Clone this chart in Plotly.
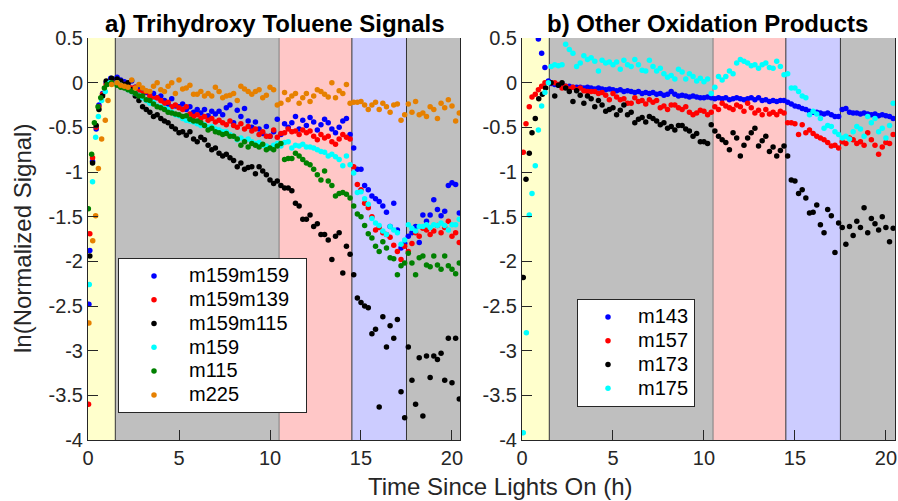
import plotly.graph_objects as go

# ---------------- data ----------------
T_MAIN = [1.6, 1.8,
          2.0, 2.2, 2.4, 2.6, 2.8,
          3.0, 3.2, 3.4, 3.6, 3.8,
          4.0, 4.2, 4.4, 4.6, 4.8,
          5.0, 5.2, 5.4, 5.6, 5.8,
          6.0, 6.2, 6.4, 6.6, 6.8,
          7.0, 7.2, 7.4, 7.6, 7.8,
          8.0, 8.2, 8.4, 8.6, 8.8,
          9.0, 9.2, 9.4, 9.6, 9.8,
          10.0, 10.2, 10.4, 10.6, 10.8,
          11.0, 11.2, 11.4, 11.6, 11.8,
          12.0, 12.2, 12.4, 12.6, 12.8,
          13.0, 13.2, 13.4, 13.6, 13.8,
          14.0, 14.2, 14.4, 14.6, 14.8,
          15.0, 15.2, 15.4, 15.6, 15.8,
          16.0, 16.2, 16.4, 16.6, 16.8,
          17.0, 17.2, 17.4, 17.6, 17.8,
          18.0, 18.2, 18.4, 18.6, 18.8,
          19.0, 19.2, 19.4, 19.6, 19.8,
          20.0, 20.2, 20.4]

# panel a) initial rise (lights on) samples
A_BLUE_T0 = [0.05, 0.1, 0.25, 0.45, 0.6, 0.8, 1.0, 1.25, 1.45]
A_BLUE_Y0 = [-2.48, -1.88, -0.88, -0.52, -0.25, -0.12, 0.0, 0.05, 0.03]
A_RED_T0 = [0.03, 0.1, 0.25, 0.45, 0.6, 0.8, 1.0, 1.3]
A_RED_Y0 = [-3.6, -1.69, -0.84, -0.5, -0.27, -0.13, -0.02, 0.0]
A_BLACK_T0 = [0.1, 0.25, 0.45, 0.6, 0.8, 1.0, 1.3]
A_BLACK_Y0 = [-1.94, -0.9, -0.48, -0.3, -0.15, 0.02, 0.05]
A_CYAN_T0 = [0.07, 0.25, 0.42, 0.57, 0.75, 0.95, 1.2]
A_CYAN_Y0 = [-2.26, -1.11, -0.61, -0.38, -0.2, -0.1, 0.0]
A_GREEN_T0 = [0.02, 0.2, 0.35, 0.55, 0.7, 0.9, 1.05, 1.3]
A_GREEN_Y0 = [-1.41, -0.8, -0.45, -0.27, -0.17, -0.06, -0.02, 0.0]
A_ORANGE_T0 = [0.05, 0.26, 0.42, 0.57, 0.75, 0.95, 1.1, 1.3]
A_ORANGE_Y0 = [-2.69, -1.77, -1.49, -0.96, -0.63, -0.42, -0.2, -0.02]

A_BLUE = [0.06, 0.03,
          0.01, -0.02, 0.02, -0.05, -0.08,
          -0.07, -0.11, -0.13, -0.12, -0.17,
          -0.15, -0.20, -0.24, -0.18, -0.26,
          -0.27, -0.24, -0.30, -0.27, -0.33,
          -0.30, -0.34, -0.30, -0.37, -0.32,
          -0.35, -0.32, -0.36, -0.28, -0.25,
          -0.45, -0.31, -0.38, -0.29, -0.43,
          -0.50, -0.44, -0.52, -0.57, -0.49,
          -0.60, -0.55, -0.41, -0.58, -0.46,
          -0.50, -0.45, -0.38, -0.52, -0.42,
          -0.48, -0.39, -0.44, -0.53, -0.47,
          -0.41, -0.45, -0.52, -0.56, -0.50,
          -0.43, -0.40, -0.58, -0.73, -0.97,
          -0.97, -1.15, -1.20, -1.27, -1.30,
          -1.33, -1.38, -1.45, -1.61, -1.35,
          -1.65, -1.85, -1.80, -1.72, -1.68,
          -1.61, -1.79, -1.48, -1.55, -1.48,
          -1.31, -1.42, -1.49, -1.44, -1.15,
          -1.12, -1.14, -1.46]

A_RED = [0.02, 0.00,
         -0.02, -0.04, -0.06, -0.05, -0.10,
         -0.12, -0.10, -0.15, -0.18, -0.17,
         -0.20, -0.23, -0.22, -0.27, -0.25,
         -0.28, -0.30, -0.27, -0.35, -0.38,
         -0.36, -0.40, -0.38, -0.42, -0.40,
         -0.44, -0.42, -0.45, -0.47, -0.43,
         -0.48, -0.50, -0.46, -0.52, -0.49,
         -0.54, -0.52, -0.58, -0.55, -0.60,
         -0.60, -0.53, -0.61, -0.57, -0.56,
         -0.52, -0.55, -0.54, -0.58, -0.53,
         -0.56, -0.54, -0.60, -0.64, -0.58,
         -0.62, -0.60, -0.66, -0.69, -0.63,
         -0.58, -0.61, -0.63, -0.94, -1.14,
         -1.20, -1.35, -1.40, -1.50, -1.65,
         -1.62, -1.68, -1.70, -1.73, -1.82,
         -1.89, -1.98, -1.83, -1.89, -1.80,
         -1.68, -1.72, -1.63, -1.65, -1.70,
         -1.66, -1.60, -1.68, -1.62, -1.55,
         -1.72, -1.68, -1.79]

A_BLACK = [0.04, 0.02,
           -0.02, 0.00, -0.08, -0.15, -0.20,
           -0.27, -0.30, -0.33, -0.38, -0.36,
           -0.40, -0.43, -0.45, -0.49, -0.52,
           -0.56, -0.55, -0.59, -0.55, -0.63,
           -0.66, -0.61, -0.64, -0.70, -0.75,
           -0.73, -0.79, -0.82, -0.80, -0.84,
           -0.87, -0.94, -0.90, -0.97, -0.95,
           -0.94, -1.02, -0.94, -0.99, -1.03,
           -1.09, -1.13, -1.10, -1.15, -1.18,
           -1.18, -1.21, -1.35, -1.38, -1.53,
           -1.53, -1.48, -1.61, -1.58, -1.70,
           -1.70, -1.76, -1.98, -1.72, -1.68,
           -2.13, -1.83, -1.92, -2.15, -2.41,
           -2.46, -2.50, -2.52, -2.81, -2.76,
           -3.63, -2.62, -2.96, -2.72, -2.86,
           -2.65, -3.46, -3.75, -2.96, -3.33,
           -3.60, -3.08, -3.73, -3.06, -3.30,
           -3.06, -3.10, -3.03, -3.33, -2.86,
           -3.36, -2.86, -3.54]

A_CYAN = [0.00, -0.03,
          -0.05, -0.08, -0.10, -0.12, -0.14,
          -0.17, -0.20, -0.23, -0.22, -0.26,
          -0.27, -0.29, -0.30, -0.33, -0.36,
          -0.37, -0.40, -0.42, -0.43, -0.44,
          -0.46, -0.48, -0.47, -0.50, -0.49,
          -0.52, -0.53, -0.55, -0.55, -0.58,
          -0.60, -0.64, -0.62, -0.65, -0.63,
          -0.66, -0.68, -0.67, -0.70, -0.71,
          -0.73, -0.70, -0.68, -0.71, -0.67,
          -0.66, -0.73, -0.70, -0.71, -0.69,
          -0.72, -0.72, -0.73, -0.75, -0.77,
          -0.78, -0.82, -0.80, -0.83, -0.86,
          -0.93, -0.82, -0.92, -1.01, -1.23,
          -1.22, -1.30, -1.36, -1.52, -1.57,
          -1.60, -1.66, -1.70, -1.61, -1.65,
          -1.68, -1.81, -1.76, -1.59, -1.63,
          -1.66, -1.61, -1.61, -1.59, -1.62,
          -1.59, -1.60, -1.57, -1.60, -1.65,
          -1.59, -1.59, -1.53]

A_GREEN = [-0.03, -0.05,
           -0.06, -0.08, -0.10, -0.12, -0.15,
           -0.15, -0.19, -0.20, -0.24, -0.27,
           -0.28, -0.30, -0.33, -0.34, -0.35,
           -0.36, -0.38, -0.37, -0.41, -0.43,
           -0.43, -0.45, -0.48, -0.53, -0.51,
           -0.55, -0.56, -0.58, -0.57, -0.60,
           -0.60, -0.63, -0.70, -0.66, -0.72,
           -0.68, -0.70, -0.72, -0.69, -0.75,
           -0.73, -0.75, -0.71, -0.68, -0.86,
           -0.85, -0.85, -0.79, -0.82, -0.86,
           -0.90, -0.92, -0.97, -1.03, -1.09,
           -0.99, -1.10, -1.15, -1.27, -1.24,
           -1.23, -1.25, -1.29, -1.38, -1.47,
           -1.50, -1.60, -1.69, -1.74, -1.83,
           -1.89, -1.78, -1.85, -1.96, -1.97,
           -2.15, -2.05, -2.02, -1.91, -2.02,
           -2.15, -1.96, -1.94, -2.04, -2.06,
           -1.94, -2.04, -2.09, -1.94, -2.05,
           -2.09, -2.14, -2.02]

A_ORANGE = [0.00, -0.03,
            -0.04, -0.05, 0.03, -0.06, -0.02,
            -0.06, -0.09, -0.10, -0.04, 0.00,
            -0.08, -0.10, -0.04, 0.00, -0.12,
            0.03, -0.07, -0.06, -0.03, -0.13,
            -0.13, -0.10, -0.15, -0.12, -0.15,
            -0.05, -0.10, -0.17, -0.15, -0.14,
            -0.12, -0.20, -0.04, -0.07, -0.10,
            -0.13, -0.10, -0.08, -0.17, -0.14,
            -0.05, -0.08, -0.25, -0.23, -0.11,
            -0.19, -0.15, -0.12, -0.23, -0.17,
            -0.12, -0.21, -0.15, -0.08, -0.10,
            -0.13, -0.16, 0.00, -0.17, -0.09,
            -0.12, -0.02, -0.23, -0.22, -0.22,
            -0.21, -0.25, -0.30, -0.25, -0.22,
            -0.30, -0.23, -0.27, -0.33, -0.25,
            -0.24, -0.42, -0.36, -0.24, -0.33,
            -0.21, -0.36, -0.34, -0.38, -0.27,
            -0.30, -0.40, -0.23, -0.28, -0.19,
            -0.26, -0.43, -0.34]

# panel b) initial samples
B_BLUE_T0 = [0.9, 1.08, 1.26, 1.45]
B_BLUE_Y0 = [0.49, 0.33, 0.17, 0.02]
B_RED_T0 = [0.07, 0.22, 0.4, 0.55, 0.73, 0.9, 1.08, 1.26]
B_RED_Y0 = [-0.78, -0.46, -0.27, -0.16, -0.13, -0.08, -0.04, 0.0]
B_BLACK_T0 = [0.07, 0.22, 0.4, 0.55, 0.73, 0.92, 1.12, 1.3]
B_BLACK_Y0 = [-2.18, -1.08, -0.79, -0.56, -0.4, -0.18, -0.13, -0.06]
B_CYAN_T0 = [0.07, 0.24, 0.4, 0.55, 0.73, 0.9, 1.08, 1.26, 1.45]
B_CYAN_Y0 = [-3.92, -2.8, -1.48, -1.24, -0.93, -0.53, -0.26, -0.11, 0.0]

B_BLUE = [-0.01, -0.02,
          -0.03, -0.03, -0.04, -0.04, -0.05,
          -0.05, -0.05, -0.06, -0.05, -0.06,
          -0.07, -0.06, -0.07, -0.08, -0.07,
          -0.08, -0.09, -0.08, -0.10, -0.09,
          -0.10, -0.11, -0.10, -0.12, -0.11,
          -0.12, -0.11, -0.13, -0.12, -0.14,
          -0.13, -0.10, -0.13, -0.15, -0.14,
          -0.15, -0.16, -0.15, -0.16, -0.17,
          -0.17, -0.16, -0.17, -0.18, -0.17,
          -0.18, -0.17, -0.19, -0.18, -0.17,
          -0.18, -0.19, -0.18, -0.17, -0.19,
          -0.17, -0.20, -0.19, -0.21, -0.20,
          -0.21, -0.20, -0.20, -0.22, -0.24,
          -0.26, -0.27, -0.29, -0.30, -0.32,
          -0.33, -0.33, -0.34, -0.35, -0.34,
          -0.36, -0.38, -0.38, -0.30, -0.29,
          -0.33, -0.34, -0.34, -0.35, -0.34,
          -0.35, -0.36, -0.35, -0.37, -0.36,
          -0.37, -0.38, -0.40]

B_RED = [0.00, 0.00,
         -0.02, -0.06, -0.04, -0.07, -0.05,
         -0.08, -0.06, -0.09, -0.10, -0.10,
         -0.10, -0.12, -0.11, -0.14, -0.19,
         -0.12, -0.16, -0.19, -0.18, -0.23,
         -0.23, -0.17, -0.21, -0.20, -0.24,
         -0.19, -0.22, -0.20, -0.28, -0.26,
         -0.30, -0.25, -0.25, -0.28, -0.30,
         -0.27, -0.33, -0.36, -0.34, -0.31,
         -0.32, -0.36, -0.33, -0.27, -0.30,
         -0.23, -0.26, -0.28, -0.30, -0.25,
         -0.27, -0.32, -0.23, -0.28, -0.34,
         -0.31, -0.36, -0.30, -0.35, -0.33,
         -0.36, -0.32, -0.34, -0.45, -0.45,
         -0.46, -0.58, -0.47, -0.56, -0.53,
         -0.57, -0.60, -0.62, -0.64, -0.67,
         -0.71, -0.70, -0.73, -0.66, -0.68,
         -0.62, -0.64, -0.68, -0.66, -0.70,
         -0.56, -0.64, -0.70, -0.80, -0.72,
         -0.67, -0.68, -0.58]

B_BLACK = [0.00, -0.15,
           -0.03, 0.00, -0.06, -0.10, -0.21,
           -0.09, -0.14, -0.23, -0.15, -0.18,
           -0.27, -0.20, -0.25, -0.32, -0.30,
           -0.28, -0.36, -0.31, -0.25, -0.36,
           -0.33, -0.45, -0.41, -0.39, -0.44,
           -0.38, -0.40, -0.43, -0.47, -0.45,
           -0.51, -0.49, -0.53, -0.48, -0.48,
           -0.52, -0.54, -0.60, -0.57, -0.66,
           -0.66, -0.68, -0.47, -0.54, -0.60,
           -0.64, -0.67, -0.75, -0.56, -0.62,
           -0.82, -0.70, -0.62, -0.56, -0.51,
           -0.71, -0.65, -0.60, -0.77, -0.72,
           -0.82, -0.76, -0.71, -0.82, -1.09,
           -1.10, -1.24, -1.20, -1.29, -1.46,
           -1.45, -1.37, -1.59, -1.68, -1.42,
           -1.49, -1.90, -1.57, -1.62, -1.81,
           -1.61, -1.71, -1.55, -1.62, -1.40,
           -1.68, -1.52, -1.58, -1.65, -1.50,
           -1.62, -1.78, -1.63]

B_CYAN = [0.18, 0.20,
          0.19, 0.20, 0.43, 0.37, 0.33,
          0.18, 0.22, 0.30, 0.26, 0.28,
          0.24, 0.13, 0.25, 0.22, 0.23,
          0.20, 0.23, 0.15, 0.25, 0.20,
          0.18, 0.26, 0.20, 0.14, 0.13,
          0.25, 0.18, 0.13, 0.16, 0.10,
          0.06, 0.08, 0.04, 0.15, 0.12,
          0.04, 0.10, 0.07, 0.02, 0.05,
          0.01, 0.04, -0.12, -0.05, 0.07,
          0.03, 0.07, 0.13, 0.10, 0.22,
          0.26, 0.24, 0.22, 0.19, 0.20,
          0.16, 0.20, 0.22, 0.17, 0.16,
          0.24, 0.18, 0.09, 0.10, -0.06,
          -0.06, -0.10, -0.15, -0.17, -0.36,
          -0.32, -0.35, -0.40, -0.51, -0.48,
          -0.49, -0.55, -0.58, -0.62, -0.60,
          -0.63, -0.55, -0.49, -0.52, -0.60,
          -0.38, -0.45, -0.40, -0.55, -0.51,
          -0.62, -0.48, -0.23]

# experimental phases (h): lights-on, dark, pink, blue, dark
PHASE_EDGES = [0.0, 1.5, 10.5, 14.5, 17.5]
PHASE_COLORS = ["#FFFFCC", "#BFBFBF", "#FFC7C7", "#CCCCFF", "#BFBFBF"]

X_TICKS = [0, 5, 10, 15, 20]
Y_TICKS = [0.5, 0, -0.5, -1, -1.5, -2, -2.5, -3, -3.5, -4]
Y_TICK_TEXT = ["0.5", "0", "-0.5", "-1", "-1.5", "-2", "-2.5", "-3", "-3.5", "-4"]

A_NAMES = ["m159m159", "m159m139", "m159m115", "m159", "m115", "m225"]
B_NAMES = ["m143", "m157", "m173", "m175"]

# ---------------- figure ----------------
W, H = 898, 501
ML, MR, MT, MB = 0, 0, 38, 61
PH = H - MT - MB
FONT = "Liberation Sans, Arial, sans-serif"
AXC = "#262626"
XMAX_A, XMAX_B = 20.44, 20.5
LEG_A = "<span style='font-size:20px'>{}&nbsp;&nbsp;</span>"
LEG_B = "<span style='font-size:20px'>{}</span>"

def px_x(p):
    return p / W

def px_y(p):
    return (H - MB - p) / PH

fig = go.Figure()

a_series = [
    (A_BLUE_T0, A_BLUE_Y0, A_BLUE, "#0000FF"),
    (A_RED_T0, A_RED_Y0, A_RED, "#FF0000"),
    (A_BLACK_T0, A_BLACK_Y0, A_BLACK, "#000000"),
    (A_CYAN_T0, A_CYAN_Y0, A_CYAN, "#00FFFF"),
    (A_GREEN_T0, A_GREEN_Y0, A_GREEN, "#008000"),
    (A_ORANGE_T0, A_ORANGE_Y0, A_ORANGE, "#E68000"),
]
b_series = [
    (B_BLUE_T0, B_BLUE_Y0, B_BLUE, "#0000FF"),
    (B_RED_T0, B_RED_Y0, B_RED, "#FF0000"),
    (B_BLACK_T0, B_BLACK_Y0, B_BLACK, "#000000"),
    (B_CYAN_T0, B_CYAN_Y0, B_CYAN, "#00FFFF"),
]

for name, (t0, y0, ym, col) in zip(A_NAMES, a_series):
    fig.add_trace(go.Scatter(x=t0 + T_MAIN, y=y0 + ym, mode="markers", name=LEG_A.format(name),
                             marker=dict(color=col, size=5.5, line=dict(width=0)),
                             xaxis="x", yaxis="y", legend="legend"))
for name, (t0, y0, ym, col) in zip(B_NAMES, b_series):
    fig.add_trace(go.Scatter(x=t0 + T_MAIN, y=y0 + ym, mode="markers", name=LEG_B.format(name),
                             marker=dict(color=col, size=5.5, line=dict(width=0)),
                             xaxis="x2", yaxis="y2", legend="legend2"))

shapes = []
for xr, yr, xmax in (("x", "y", XMAX_A), ("x2", "y2", XMAX_B)):
    edges = PHASE_EDGES + [xmax]
    for i, col in enumerate(PHASE_COLORS):
        shapes.append(dict(type="rect", xref=xr, yref=yr + " domain", x0=edges[i], x1=edges[i + 1],
                           y0=0, y1=1, fillcolor=col, line=dict(width=0), layer="below"))
    for e in PHASE_EDGES[1:]:
        lc = "#7F7F7F" if e == 10.5 else "#333333"
        shapes.append(dict(type="line", xref=xr, yref=yr + " domain", x0=e, x1=e, y0=0, y1=1,
                           line=dict(color=lc, width=1), layer="below"))

axis_common = dict(showline=True, linecolor=AXC, linewidth=1, ticks="inside", ticklen=10,
                   tickcolor=AXC, tickwidth=1, showgrid=False, zeroline=False, automargin=False,
                   tickfont=dict(family=FONT, size=20, color=AXC))

leg_common = dict(xanchor="left", yanchor="top", bgcolor="white", bordercolor=AXC,
                  borderwidth=1, font=dict(family=FONT, size=16, color="black"),
                  tracegroupgap=0)

fig.update_layout(
    width=W, height=H,
    margin=dict(l=ML, r=MR, t=MT, b=MB, pad=0, autoexpand=False),
    paper_bgcolor="white", plot_bgcolor="white",
    font=dict(family=FONT, color="black"),
    showlegend=True,
    xaxis=dict(domain=[px_x(88), px_x(460)], range=[0, XMAX_A], tickvals=X_TICKS,
               anchor="y", **axis_common),
    yaxis=dict(domain=[0, 1], range=[-4, 0.5], tickvals=Y_TICKS, ticktext=Y_TICK_TEXT,
               anchor="x", mirror=True, **axis_common),
    xaxis2=dict(domain=[px_x(522), px_x(895)], range=[0, XMAX_B], tickvals=X_TICKS,
                anchor="y2", **axis_common),
    yaxis2=dict(domain=[0, 1], range=[-4, 0.5], tickvals=Y_TICKS, ticktext=Y_TICK_TEXT,
                anchor="x2", mirror=True, **axis_common),
    legend=dict(x=px_x(118), y=px_y(258), itemwidth=60, **leg_common),
    legend2=dict(x=px_x(577), y=px_y(299), itemwidth=50, **leg_common),
    shapes=shapes,
    annotations=[
        dict(text="<b>a) Trihydroxy Toluene Signals</b>", x=px_x(274.5), y=px_y(23),
             xref="paper", yref="paper", showarrow=False, xanchor="center", yanchor="middle",
             font=dict(family=FONT, size=24, color="black")),
        dict(text="<b>b) Other Oxidation Products</b>", x=px_x(707), y=px_y(23),
             xref="paper", yref="paper", showarrow=False, xanchor="center", yanchor="middle",
             font=dict(family=FONT, size=24, color="black")),
        dict(text="Time Since Lights On (h)", x=px_x(500), y=px_y(486),
             xref="paper", yref="paper", showarrow=False, xanchor="center", yanchor="middle",
             font=dict(family=FONT, size=24, color=AXC)),
        dict(text="ln(Normalized Signal)", x=px_x(22), y=0.5, textangle=-90,
             xref="paper", yref="paper", showarrow=False, xanchor="center", yanchor="middle",
             font=dict(family=FONT, size=24, color=AXC)),
    ],
)

fig.write_html("out.html", config={"displayModeBar": False},
               post_script="document.body.style.margin='0';document.body.style.overflow='hidden';")
